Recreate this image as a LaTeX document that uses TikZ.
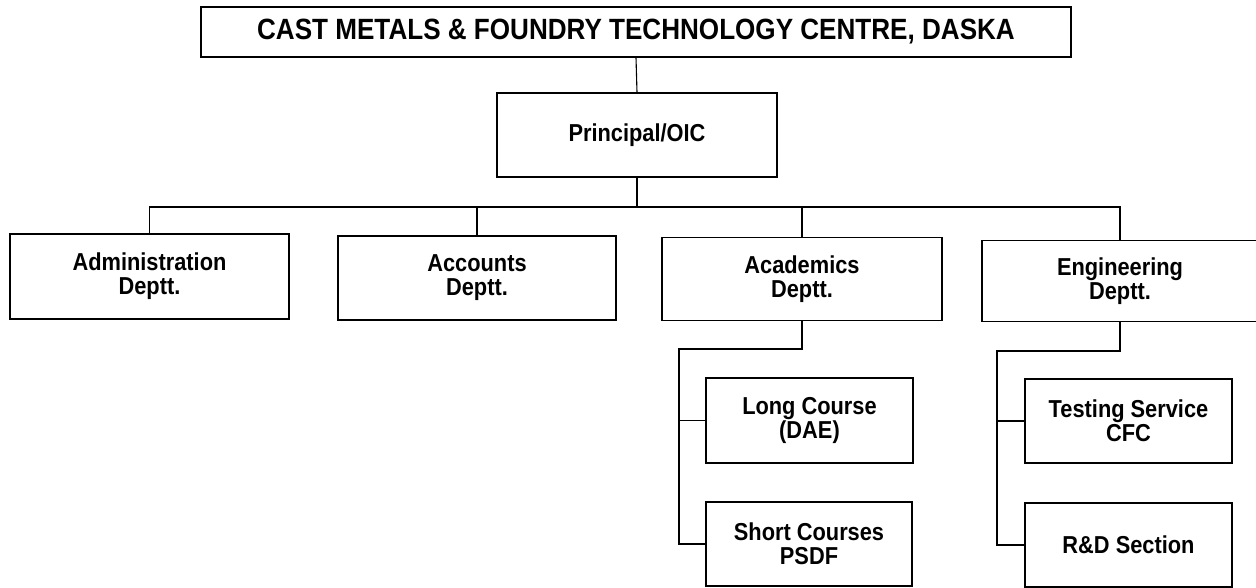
\documentclass[tikz,border=0pt]{standalone}
\usepackage{fontspec}
\newfontfamily\chartfont{Liberation Sans}[FakeStretch=0.89]
\begin{document}
\begin{tikzpicture}[x=1pt,y=-1pt,
  box/.style={draw=black, line width=1.3pt, rectangle, inner sep=0pt, align=center,
    font=\chartfont\bfseries\fontsize{24.5}{24}\selectfont, text=black},
  titlebox/.style={box, font=\chartfont\bfseries\fontsize{29.3}{30}\selectfont},
  link/.style={draw=black, line width=1.1pt}]
\clip (0,0) rectangle (1256,588);
\fill[white] (0,0) rectangle (1256,588);
% boxes
\node[titlebox, minimum width=870pt, minimum height=50pt] (title) at (636,32) {CAST METALS \& FOUNDRY TECHNOLOGY CENTRE, DASKA};
\node[box, minimum width=280pt, minimum height=84pt] (principal) at (637,135) {Principal/OIC};
\node[box, minimum width=279pt, minimum height=85pt] (admin) at (149.5,276.5) {Administration\\Deptt.};
\node[box, minimum width=278pt, minimum height=84pt] (accounts) at (477,278) {Accounts\\Deptt.};
\node[box, minimum width=280pt, minimum height=83pt] (acad) at (802,279) {Academics\\Deptt.};
\node[box, minimum width=276pt, minimum height=81pt] (eng) at (1120,281) {Engineering\\Deptt.};
\node[box, minimum width=207pt, minimum height=85pt] (longc) at (809.5,420.5) {Long Course\\(DAE)};
\node[box, minimum width=206pt, minimum height=84pt] (shortc) at (809,544) {Short Courses\\PSDF};
\node[box, minimum width=207pt, minimum height=84pt] (testing) at (1128.5,421) {Testing Service\\CFC};
\node[box, minimum width=207pt, minimum height=84pt] (rd) at (1128.5,545) {R\&D Section};
% junction coordinates
\coordinate (bus) at (637,207);
\coordinate (acadj) at (679,349);
\coordinate (engj) at (997,351);
% connectors
\draw[link] (title.south) -- (principal.north);
\draw[link] (principal.south) -- (bus);
\draw[link] (bus) -| (admin.north);
\draw[link] (bus) -| (accounts.north);
\draw[link] (bus) -| (acad.north);
\draw[link] (bus) -| (eng.north);
\draw[link] (acad.south) |- (acadj) -- (acadj |- shortc.west) -- (shortc.west);
\draw[link] (acadj |- longc.west) -- (longc.west);
\draw[link] (eng.south) |- (engj) -- (engj |- rd.west) -- (rd.west);
\draw[link] (engj |- testing.west) -- (testing.west);
\end{tikzpicture}
\end{document}
